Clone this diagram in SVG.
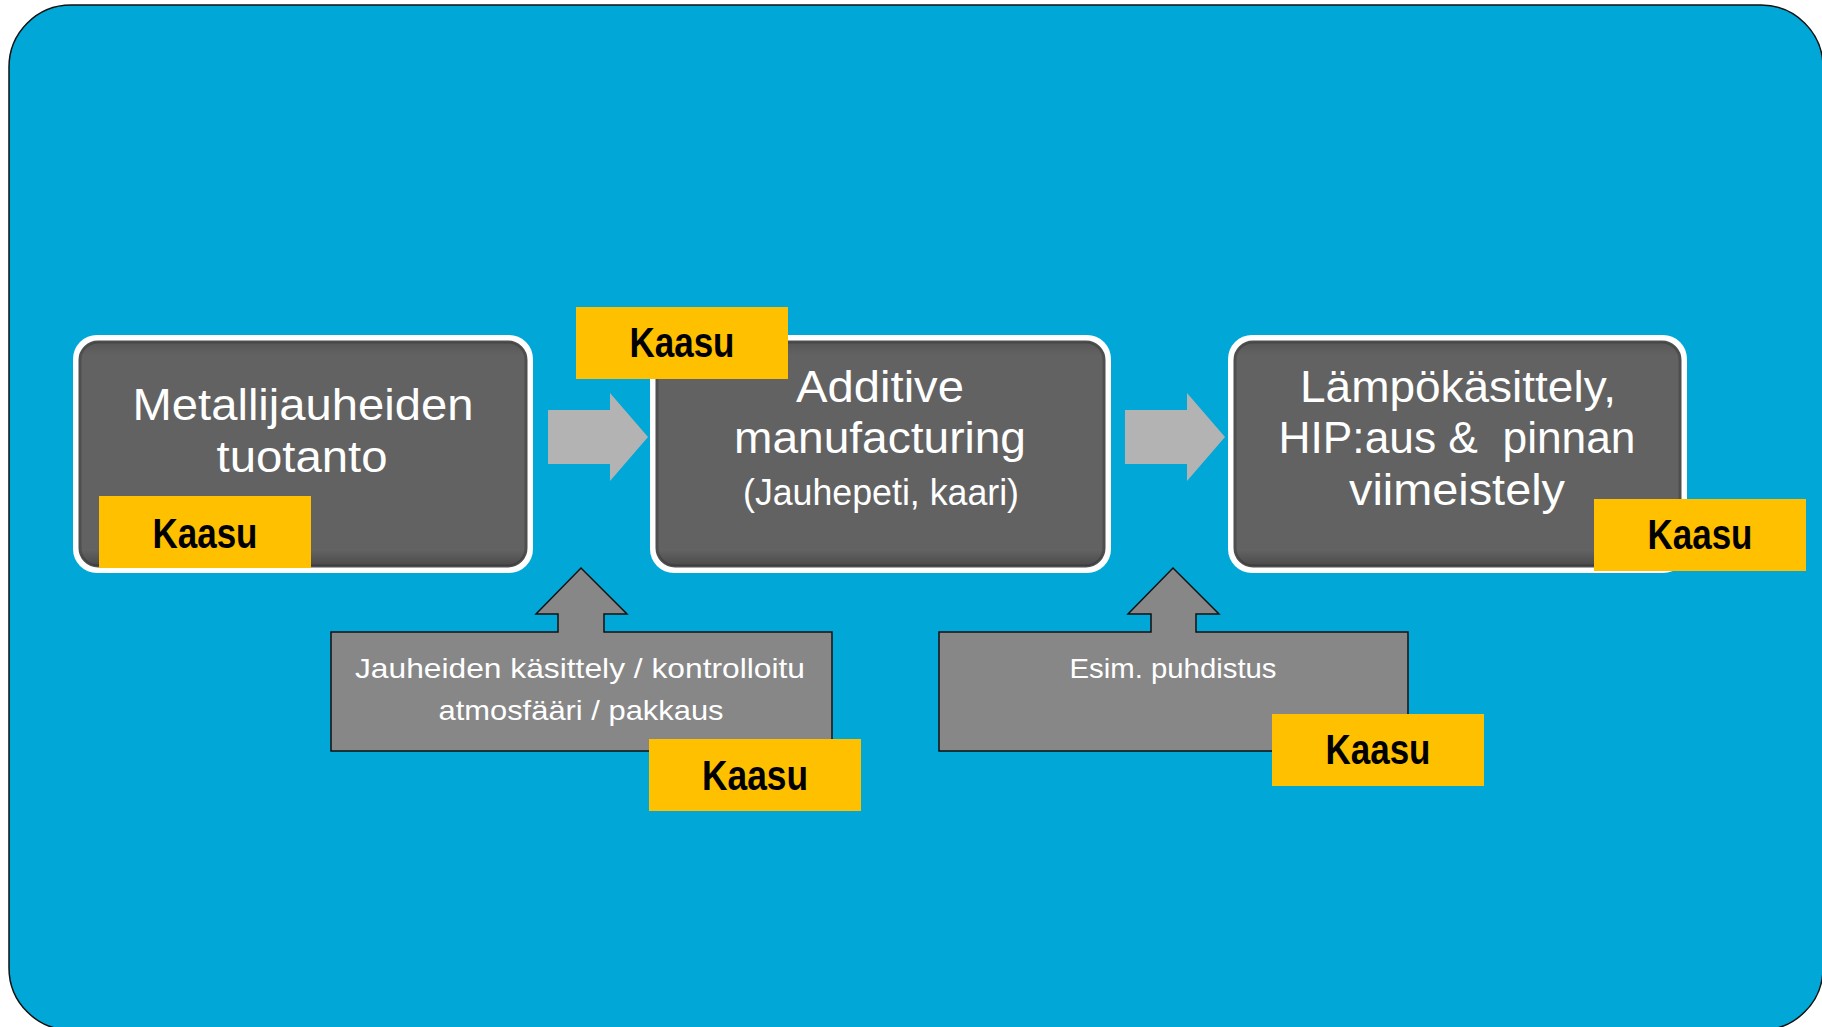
<svg xmlns="http://www.w3.org/2000/svg" width="1822" height="1027" viewBox="0 0 1822 1027">
<defs>
<style>
.bg{fill:#00A7D7;stroke:#111;stroke-width:1.5}
.outer{fill:#ffffff}
.inner{fill:#626262;stroke:#4f4f4f;stroke-width:3}
.t{font-family:"Liberation Sans","Noto Sans",sans-serif;fill:#ffffff;text-anchor:middle}
.big{font-size:44px}
.mid{font-size:37px}
.sm{font-size:28px}
.kbox{fill:#FFC000}
.k{font-family:"Liberation Sans","Noto Sans",sans-serif;font-weight:bold;font-size:43px;fill:#000;text-anchor:middle}
.flow{fill:#B3B3B3}
.call{fill:#878787;stroke:#111;stroke-width:1.5}
</style>
<linearGradient id="shade" x1="0" y1="0" x2="0" y2="1">
<stop offset="0" stop-color="#000" stop-opacity="0.12"/>
<stop offset="0.06" stop-color="#000" stop-opacity="0"/>
<stop offset="0.93" stop-color="#000" stop-opacity="0"/>
<stop offset="1" stop-color="#000" stop-opacity="0.25"/>
</linearGradient>
</defs>
<rect class="bg" x="9" y="5" width="1814" height="1025" rx="62" ry="62"/>

<g id="connectors">
<polygon class="flow" points="548,410 610,410 610,393 648,437 610,481 610,464 548,464"/>
<polygon class="flow" points="1125,410 1187,410 1187,393 1225,437 1187,481 1187,464 1125,464"/>
</g>

<g id="node1">
<rect class="outer" x="73" y="335" width="460" height="238" rx="24"/>
<rect class="inner" x="80" y="342" width="446" height="224" rx="18"/>
<rect x="80" y="342" width="446" height="224" rx="18" fill="url(#shade)"/>
<text class="t big" x="303" y="420" textLength="341" lengthAdjust="spacingAndGlyphs">Metallijauheiden</text>
<text class="t big" x="302" y="472" textLength="171" lengthAdjust="spacingAndGlyphs">tuotanto</text>
<rect class="kbox" x="99" y="496" width="212" height="72"/>
<text class="k" x="205" y="548" textLength="105" lengthAdjust="spacingAndGlyphs">Kaasu</text>
</g>

<g id="node2">
<rect class="outer" x="650" y="335" width="461" height="238" rx="24"/>
<rect class="inner" x="657" y="342" width="447" height="224" rx="18"/>
<rect x="657" y="342" width="447" height="224" rx="18" fill="url(#shade)"/>
<text class="t big" x="880" y="402" textLength="168" lengthAdjust="spacingAndGlyphs">Additive</text>
<text class="t big" x="880" y="453" textLength="292" lengthAdjust="spacingAndGlyphs">manufacturing</text>
<text class="t mid" x="881" y="505" textLength="276" lengthAdjust="spacingAndGlyphs">(Jauhepeti, kaari)</text>
<rect class="kbox" x="576" y="307" width="212" height="72"/>
<text class="k" x="682" y="357" textLength="105" lengthAdjust="spacingAndGlyphs">Kaasu</text>
</g>

<g id="node3">
<rect class="outer" x="1228" y="335" width="459" height="238" rx="24"/>
<rect class="inner" x="1235" y="342" width="445" height="224" rx="18"/>
<rect x="1235" y="342" width="445" height="224" rx="18" fill="url(#shade)"/>
<text class="t big" x="1458" y="402" textLength="316" lengthAdjust="spacingAndGlyphs">Lämpökäsittely,</text>
<text class="t big" x="1457" y="453" textLength="357" lengthAdjust="spacingAndGlyphs" xml:space="preserve">HIP:aus &amp;  pinnan</text>
<text class="t big" x="1457" y="505" textLength="216" lengthAdjust="spacingAndGlyphs">viimeistely</text>
<rect class="kbox" x="1594" y="499" width="212" height="72"/>
<text class="k" x="1700" y="549" textLength="105" lengthAdjust="spacingAndGlyphs">Kaasu</text>
</g>

<g id="node4">
<polygon class="call" points="331,632 558,632 558,614 536,614 581,568 627,614 604,614 604,632 832,632 832,751 331,751"/>
<text class="t sm" x="580" y="678" textLength="450" lengthAdjust="spacingAndGlyphs">Jauheiden käsittely / kontrolloitu</text>
<text class="t sm" x="581" y="720" textLength="285" lengthAdjust="spacingAndGlyphs">atmosfääri / pakkaus</text>
<rect class="kbox" x="649" y="739" width="212" height="72"/>
<text class="k" x="755" y="790" textLength="106" lengthAdjust="spacingAndGlyphs">Kaasu</text>
</g>

<g id="node5">
<polygon class="call" points="939,632 1151,632 1151,614 1128,614 1173,568 1219,614 1196,614 1196,632 1408,632 1408,751 939,751"/>
<text class="t sm" x="1173" y="678" textLength="207" lengthAdjust="spacingAndGlyphs">Esim. puhdistus</text>
<rect class="kbox" x="1272" y="714" width="212" height="72"/>
<text class="k" x="1378" y="764" textLength="105" lengthAdjust="spacingAndGlyphs">Kaasu</text>
</g>
</svg>
